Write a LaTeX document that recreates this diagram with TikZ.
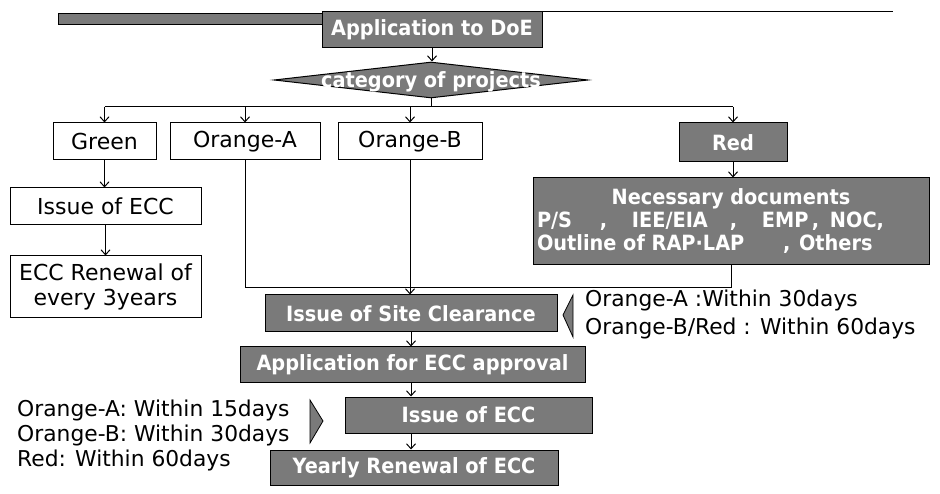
\documentclass[tikz,border=0pt]{standalone}
\usepackage{fontspec}
\setmainfont{DejaVu Sans}
\newfontfamily\grayfont[FakeStretch=0.92]{DejaVu Sans}
\usetikzlibrary{arrows.meta,shapes.geometric}
\tikzset{
  wbox/.style={draw=black, line width=1pt, fill=white, inner sep=2pt, align=center,
    font=\fontsize{22}{25}\selectfont},
  gbox/.style={draw=black, line width=1pt, fill=black!52, text=white, inner sep=2pt, align=center,
    font=\grayfont\bfseries\fontsize{21}{23}\selectfont},
  arr/.style={-{Straight Barb[length=5pt,width=9pt]}, line width=1pt},
  ln/.style={line width=1pt},
  note/.style={inner sep=0pt, align=left, anchor=west},
  tri/.style={fill=black!52, draw=black, line width=0.8pt}
}
\begin{document}
\begin{tikzpicture}[x=1pt,y=-1pt]
\fill[white] (0,0) rectangle (940,494);
\useasboundingbox (0,0) rectangle (940,494);
% header
\fill[black!52, draw=black, line width=0.6pt] (58,13) rectangle (322,24);
\coordinate (hdrR) at (893,13);
% nodes
\node[gbox, minimum width=220, minimum height=36] (app) at (432,30) {Application to DoE};
\draw[line width=1pt] (app.north east) -- (app.north east -| hdrR);
\node[diamond, draw=black, line width=1pt, fill=black!52, text=white, inner sep=0pt,
  minimum width=314, minimum height=36, font=\grayfont\bfseries\fontsize{21}{23}\selectfont]
  (cat) at (431,80) {\smash{\raisebox{-0.36em}{\makebox[0pt]{category of projects}}}};
\node[wbox, minimum width=103, minimum height=37] (green) at (104.5,141.5) {Green};
\node[wbox, minimum width=150, minimum height=37] (oa) at (245,141.5) {Orange-A};
\node[wbox, minimum width=144, minimum height=37] (ob) at (410,141.5) {Orange-B};
\node[gbox, minimum width=108, minimum height=39] (red) at (733,142.5) {Red};
\node[wbox, minimum width=191, minimum height=37] (iss1) at (105.5,206.5) {Issue of ECC};
\node[wbox, minimum width=191, minimum height=62] (ren) at (105.5,287) {ECC Renewal of\\every 3years};
\node[gbox, minimum width=396, minimum height=87, align=left] (docs) at (731,221.5)
  {\makebox[388pt][c]{Necessary documents}\\%
   \makebox[63pt][l]{P/S}\makebox[32pt][l]{,}\makebox[98pt][l]{IEE/EIA}\makebox[32pt][l]{,}\makebox[50pt][l]{EMP}\makebox[18pt][l]{,}NOC,\\%
   \makebox[246pt][l]{Outline of RAP{\textperiodcentered}LAP}\makebox[16pt][l]{,}Others};
\node[gbox, minimum width=292, minimum height=37] (sc) at (411,313.5) {Issue of Site\ Clearance};
\node[gbox, minimum width=345, minimum height=35] (ecca) at (412.5,364.5) {Application for ECC approval};
\node[gbox, minimum width=247, minimum height=36] (iss2) at (468.5,415) {Issue of ECC};
\node[gbox, minimum width=288, minimum height=35] (yr) at (414,467.5) {Yearly Renewal of ECC};
% connectors
\draw[arr] (app.south) -- (app.south |- cat.north);
\coordinate (br) at (431,107);
\draw[ln] (cat.south) -- (br);
\draw[ln] (green.north |- br) -- (red.north |- br);
\foreach \n in {green,oa,ob,red} \draw[arr] (\n.north |- br) -- (\n.north);
\draw[arr] (green.south) -- (green.south |- iss1.north);
\draw[arr] (iss1.south) -- (iss1.south |- ren.north);
\draw[arr] (red.south) -- (red.south |- docs.north);
\coordinate (jn) at (0,288);
\draw[ln] (oa.south) -- (oa.south |- jn) -- (docs.south |- jn) -- (docs.south);
\draw[arr] (ob.south) -- (ob.south |- sc.north);
\draw[arr] (sc.south) -- (sc.south |- ecca.north);
\draw[arr] (sc.south |- ecca.south) -- (sc.south |- iss2.north);
\draw[arr] (sc.south |- iss2.south) -- (sc.south |- yr.north);
% side notes
\draw[tri] (573,295) -- (573,337) -- (563,315) -- cycle;
\node[note, font=\fontsize{21.8}{28}\selectfont] (n1) at (585,314)
  {Orange-A :Within 30days\\Orange-B/Red : Within 60days};
\draw[tri] (310,400) -- (310,443) -- (323,421) -- cycle;
\node[note, font=\fontsize{21.8}{25}\selectfont] (n2) at (17,435)
  {Orange-A: Within 15days\\Orange-B: Within 30days\\Red: Within 60days};
\end{tikzpicture}
\end{document}
